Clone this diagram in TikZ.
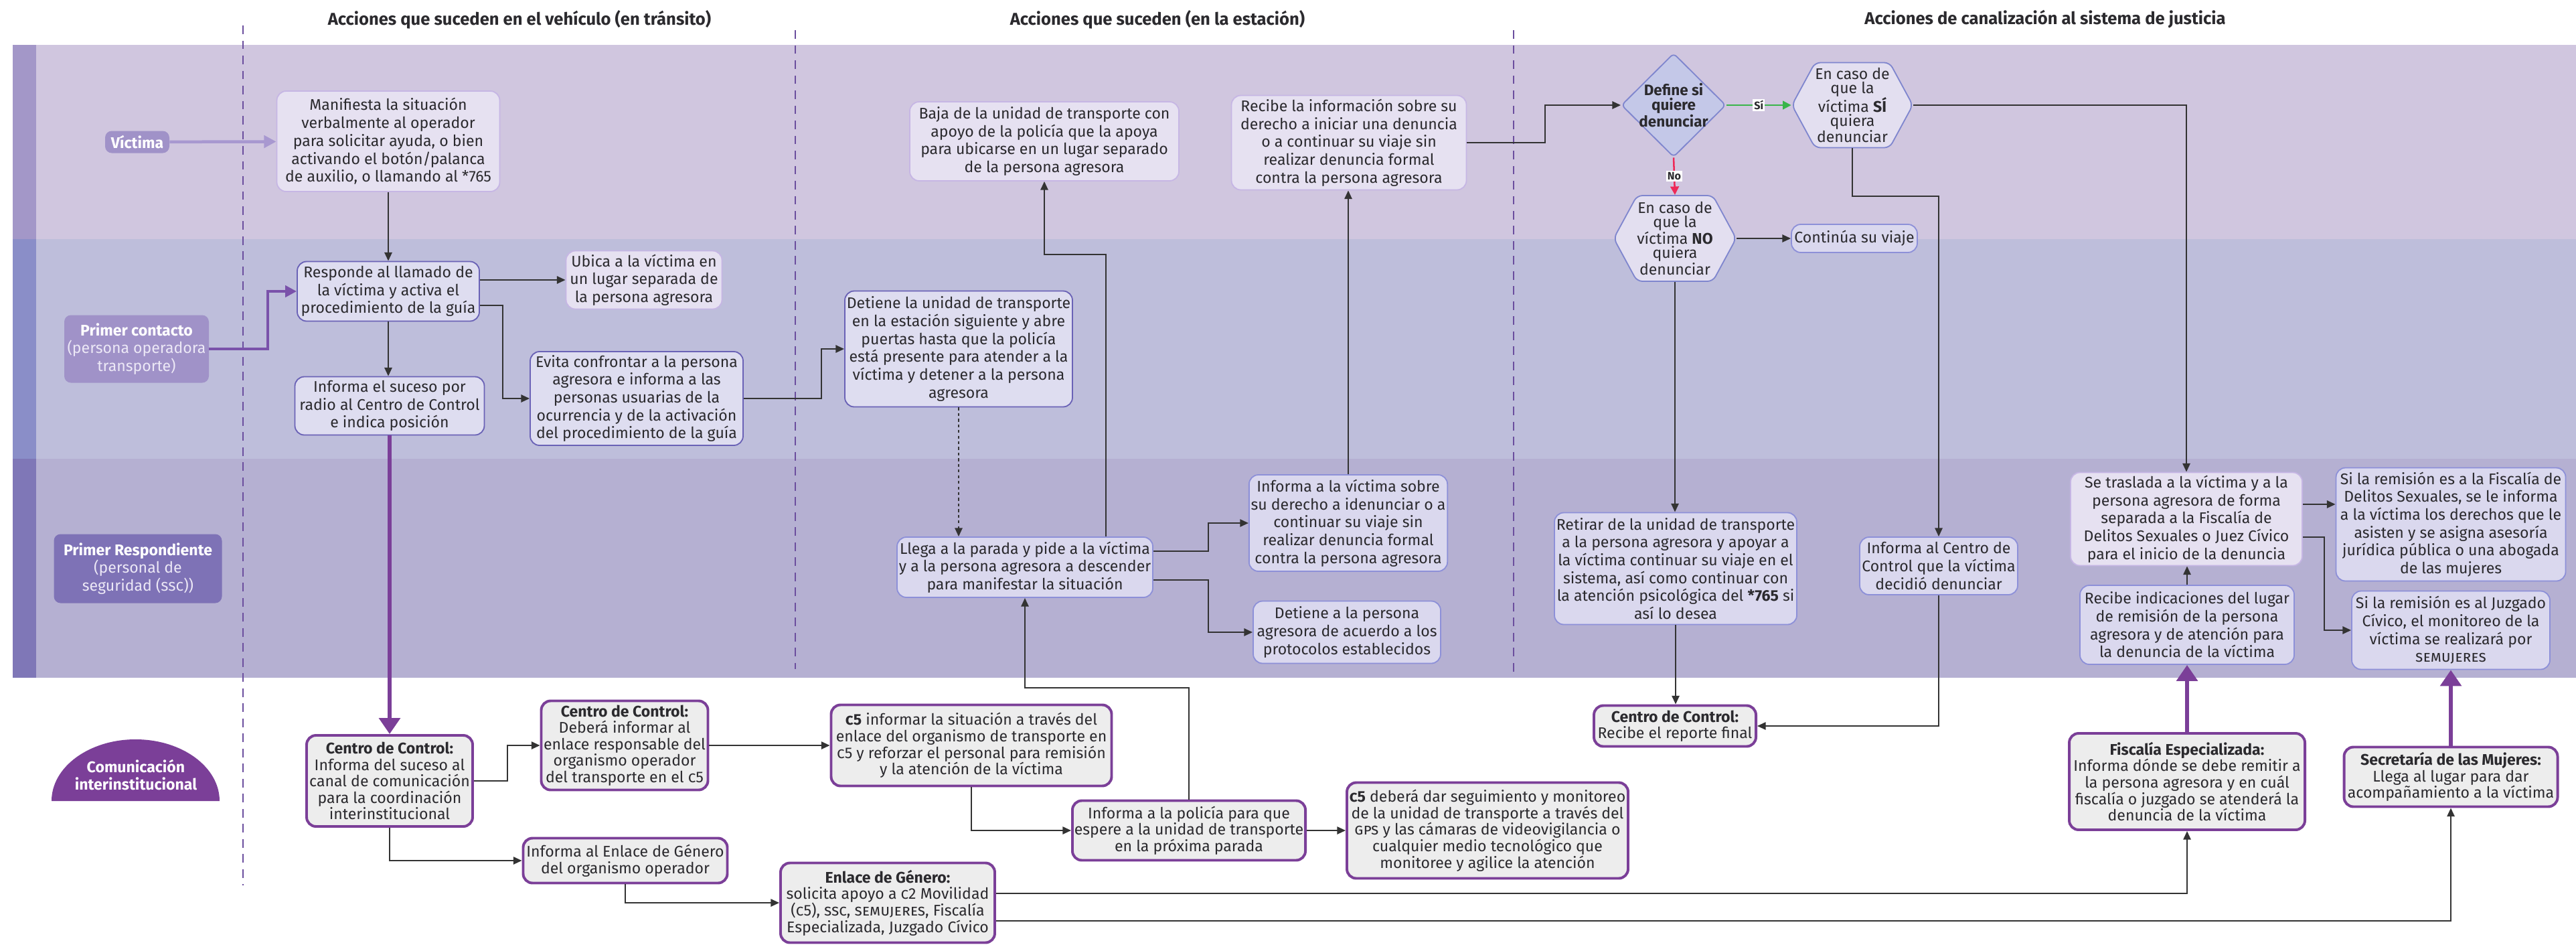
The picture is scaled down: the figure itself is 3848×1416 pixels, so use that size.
\documentclass[tikz,border=0pt]{standalone}
\usepackage{fontspec}
\setmainfont{Fira Sans}
\usetikzlibrary{arrows.meta,shapes.geometric,shapes.symbols}

\definecolor{txt}{HTML}{2B2A2E}
\definecolor{laneA}{HTML}{D0C6DF}
\definecolor{laneB}{HTML}{BEBEDB}
\definecolor{laneC}{HTML}{B5B0D2}
\definecolor{stripA}{HTML}{A397C8}
\definecolor{stripB}{HTML}{8A8EC8}
\definecolor{stripC}{HTML}{7F77B7}
\definecolor{fillA}{HTML}{E6E1F1}
\definecolor{fillB}{HTML}{DEDDF0}
\definecolor{fillC}{HTML}{DAD8EE}
\definecolor{fillD}{HTML}{EDEDED}
\definecolor{edgeA}{HTML}{C6B6E4}
\definecolor{edgeB}{HTML}{6A62B6}
\definecolor{edgeC}{HTML}{8D90D8}
\definecolor{purp}{HTML}{7B3F98}
\definecolor{tagA}{HTML}{A092C8}
\definecolor{tagC}{HTML}{7E72B6}
\definecolor{tagtxt}{HTML}{ECE8F6}
\definecolor{lin}{HTML}{333333}
\definecolor{colline}{HTML}{6B4E9E}
\definecolor{vline}{HTML}{A898D0}
\definecolor{pline}{HTML}{7A52AA}
\definecolor{decfill}{HTML}{C4C8E8}
\definecolor{decedge}{HTML}{7F86CE}
\definecolor{hexfill}{HTML}{E3DFF0}
\definecolor{sigreen}{HTML}{39B54A}
\definecolor{nored}{HTML}{EE2A58}

\newcommand\boxfont{\fontsize{16.4}{19}\selectfont}
\newcommand\cifont{\fontsize{16.4}{17.5}\selectfont}

\tikzset{
  sz/.style 2 args={minimum width=#1*0.025cm,minimum height=#2*0.025cm},
  box/.style={rectangle,rounded corners=0.35cm,align=center,text=txt,font=\boxfont,line width=1.3pt,inner sep=2pt},
  boxa/.style={box,fill=fillA,draw=edgeA},
  boxb/.style={box,fill=fillB,draw=edgeB},
  boxc/.style={box,fill=fillC,draw=edgeC},
  boxd/.style={box,fill=fillD,draw=purp,line width=2.8pt,font=\cifont},
  tag/.style={rectangle,rounded corners=0.25cm,align=center,text=white,font=\boxfont,inner sep=2pt},
  head/.style={font=\fontsize{18.2}{21}\selectfont\bfseries,text=txt},
  decis/.style={diamond,rounded corners=0.15cm,fill=decfill,draw=decedge,line width=1.3pt,align=center,text=txt,font=\fontsize{16}{15.6}\selectfont\bfseries,inner sep=-3pt},
  hexa/.style={signal,signal to=east and west,signal pointer angle=123,rounded corners=0.2cm,fill=hexfill,draw=decedge,line width=1.3pt,align=center,text=txt,font=\fontsize{16.4}{15}\selectfont,inner sep=0pt},
  yn/.style={fill=white,text=txt,font=\fontsize{11.5}{12}\selectfont\bfseries,inner sep=1.5pt},
  arr/.style={draw=lin,line width=1.4pt,-{Triangle[length=9pt,width=8pt]}},
  siarr/.style={draw=sigreen,line width=1.8pt,-{Triangle[length=9pt,width=9pt]}},
  noarr/.style={draw=nored,line width=1.8pt,-{Triangle[length=9pt,width=9pt]}},
  carr/.style={draw=purp,line width=4.3pt,-{Triangle[length=17pt,width=22pt]}},
  varr/.style={draw=vline,line width=3.2pt,-{Triangle[length=13pt,width=13pt]}},
  parr/.style={draw=pline,line width=3pt,-{Triangle[length=12pt,width=12pt]}},
  col/.style={draw=colline,line width=1.4pt,dash pattern=on 9pt off 7pt}
}

\begin{document}
\begin{tikzpicture}[x=0.025cm,y=-0.025cm]
\useasboundingbox (0,0) rectangle (3848,1416);
\fill[white] (0,0) rectangle (3848,1416);

% lanes
\foreach \ya/\yb/\c in {67/357/A,357/685/B,685/1012/C}{
  \fill[lane\c] (19,\ya) rectangle (3848,\yb);
  \fill[strip\c] (19,\ya) rectangle (54,\yb);
}
\draw[col] (363,38)--(363,1322);
\draw[col] (1188,45)--(1188,999);
\draw[col] (2261,45)--(2261,1012);

% headers
\node[head] (h1) at (776,29) {Acciones que suceden en el vehículo (en tránsito)};
\node[head] (h2) at (1729,29) {Acciones que suceden (en la estación)};
\node[head] (h3) at (3055,29) {Acciones de canalización al sistema de justicia};

% lane labels
\node[tag,fill=tagA,sz={96}{33}] (victima) at (205,212) {\textbf{Víctima}};
\node[tag,fill=tagA,sz={216}{101}] (pcont) at (204,521) {\textbf{Primer contacto}\\{\color{tagtxt}(persona operadora}\\{\color{tagtxt}transporte)}};
\node[tag,fill=tagC,sz={251}{103}] (presp) at (206,849) {\textbf{Primer Respondiente}\\{\color{tagtxt}(personal de}\\{\color{tagtxt}seguridad (\textsc{ssc}))}};
\fill[purp] (77,1196) arc[start angle=180,end angle=360,x radius=125.5,y radius=92]--cycle;
\node[font=\boxfont\bfseries,text=white,align=center] (comunic) at (203,1157) {Comunicación\\interinstitucional};

% lane 1
\node[boxa,sz={333}{150}] (manif) at (580,211) {Manifiesta la situación\\verbalmente al operador\\para solicitar ayuda, o bien\\activando el botón/palanca\\de auxilio, o llamando al *765};
\node[boxa,sz={402}{118}] (baja) at (1560,211) {Baja de la unidad de transporte con\\apoyo de la policía que la apoya\\para ubicarse en un lugar  separado\\de la persona agresora};
\node[boxa,sz={351}{141}] (recibe) at (2015,213) {Recibe la información sobre su\\derecho a iniciar una denuncia\\o a continuar su viaje sin\\realizar denuncia formal\\contra la persona agresora};
\node[decis,sz={156}{155}] (define) at (2500,157) {Define si\\quiere\\denunciar};
\node[hexa,sz={179}{127}] (si) at (2767,157) {En caso de\\que la\\víctima \textbf{SÍ}\\quiera\\denunciar};
\node[hexa,sz={178}{128}] (no) at (2502,356) {En caso de\\que la\\víctima \textbf{NO}\\quiera\\denunciar};
\node[boxc,sz={188}{42}] (continua) at (2770,356) {Continúa su viaje};

% lane 2
\node[boxb,sz={272}{89}] (responde) at (580,435) {Responde al llamado de\\la víctima y activa el\\procedimiento de la guía};
\node[boxa,sz={233}{87}] (ubica) at (962,418) {Ubica a la víctima en\\un lugar separada de\\la persona agresora};
\node[boxb,sz={318}{140}] (evita) at (951,595) {Evita confrontar a la persona\\agresora  e informa a las\\personas usuarias de la\\ocurrencia y de la activación\\del procedimiento de la guía};
\node[boxb,sz={283}{87}] (radio) at (582,606) {Informa el suceso por\\radio al Centro de Control\\e indica posición};
\node[boxb,sz={340}{173}] (detiene) at (1432,521) {Detiene la unidad de transporte\\en la estación siguiente y abre\\puertas hasta que la policía\\está presente para atender a la\\víctima y detener a la persona\\agresora};

% lane 3
\node[boxc,sz={380}{90}] (llega) at (1531,847) {Llega a la parada y pide a la víctima\\y a la persona agresora a descender\\para manifestar la situación};
\node[boxc,sz={294}{144}] (infvic) at (2014,781) {Informa a la víctima sobre\\su derecho a idenunciar o a\\continuar su viaje sin\\realizar denuncia formal\\contra la persona agresora};
\node[boxc,sz={280}{93}] (detagr) at (2012,944) {Detiene a la persona\\agresora de acuerdo a los\\protocolos establecidos};
\node[boxc,sz={361}{167}] (retirar) at (2503,849) {Retirar de la unidad de transporte\\a la persona agresora y apoyar a\\la víctima continuar su viaje en el\\sistema, así como continuar con\\la atención psicológica del \textbf{*765} si\\así lo desea};
\node[boxc,sz={236}{86}] (infcc) at (2896,845) {Informa al Centro de\\Control que la víctima\\decidió denunciar};
\node[boxa,sz={346}{139}] (traslada) at (3266,775) {Se traslada a la víctima y a la\\persona agresora de forma\\separada a la Fiscalía de\\Delitos Sexuales o Juez Cívico\\para el inicio de la denuncia};
\node[boxc,sz={320}{118}] (recind) at (3267,933) {Recibe indicaciones del lugar\\de remisión de la persona\\agresora y de atención para\\la denuncia de la víctima};
\node[boxc,sz={343}{169}] (sifisc) at (3661,783) {Si la remisión es a la Fiscalía de\\Delitos Sexuales, se le informa\\a la víctima los derechos que le\\asisten y se asigna asesoría\\jurídica pública o una abogada\\de las mujeres};
\node[boxc,sz={296}{117}] (sijuz) at (3661,941) {Si la remisión es al Juzgado\\Cívico, el monitoreo de la\\víctima se realizará por\\\textsc{semujeres}};

% comunicacion interinstitucional
\node[boxd,sz={248}{136}] (cc1) at (582,1166) {\textbf{Centro de Control:}\\Informa del suceso al\\canal de comunicación\\para la coordinación\\interinstitucional};
\node[boxd,sz={249}{133}] (cc2) at (933,1113) {\textbf{Centro de Control:}\\Deberá informar al\\enlace responsable del\\organismo operador\\del transporte en el \textsc{c5}};
\node[boxd,sz={305}{67}] (infenl) at (934,1285) {Informa al Enlace de Género\\del organismo operador};
\node[boxd,sz={419}{121}] (c5inf) at (1451,1113) {\textbf{\textsc{c5}} informar la situación a través del\\enlace del organismo de transporte en\\\textsc{c5} y reforzar el personal para remisión\\y la atención de la víctima};
\node[boxd,sz={341}{89}] (infpol) at (1776,1240) {Informa a la policía para que\\espere a la unidad de transporte\\en la próxima parada};
\node[boxd,sz={420}{143}] (c5seg) at (2222,1240) {\textbf{\textsc{c5}} deberá dar seguimiento y monitoreo\\de la unidad de transporte a través del\\\textsc{gps} y las cámaras de videovigilancia o\\cualquier medio tecnológico que\\monitoree y agilice la atención};
\node[boxd,sz={320}{119}] (enlace) at (1326,1348) {\textbf{Enlace de Género:}\\solicita apoyo a \textsc{c2} Movilidad\\(\textsc{c5}), \textsc{ssc}, \textsc{semujeres},  Fiscalía\\Especializada, Juzgado Cívico};
\node[boxd,sz={242}{61}] (ccfin) at (2502,1084) {\textbf{Centro de Control:}\\Recibe el reporte final};
\node[boxd,sz={352}{144}] (fiscal) at (3267,1167) {\textbf{Fiscalía Especializada:}\\Informa dónde se debe remitir a\\la persona agresora  y en cuál\\fiscalía o juzgado se atenderá la\\denuncia de la víctima};
\node[boxd,sz={319}{89}] (semuj) at (3661,1160) {\textbf{Secretaría de las Mujeres:}\\Llega al lugar para dar\\acompañamiento a la víctima};

% connectors
\draw[varr] (victima)--(manif);
\draw[parr] (pcont.east)--++(88,0)|-(responde.west);
\draw[arr] (manif.south)--(manif.south|-responde.north);
\draw[arr] (responde.east|-ubica.west)--(ubica.west);
\draw[arr] ([yshift=-0.525cm]responde.east)--++(34,0)|-(evita.west);
\draw[arr] (responde.south)--(responde.south|-radio.north);
\draw[carr] (radio.south)--(radio.south|-cc1.north);
\draw[arr] (evita.east)--++(116,0)|-(detiene.west);
\draw[arr,dashed] (detiene.south)--(detiene.south|-llega.north);
\draw[arr] ([xshift=3.03cm]llega.north)--++(0,-421)-|(baja.south);
\draw[arr] (infvic.north)--(infvic.north|-recibe.south);
\draw[arr] ([yshift=0.6cm]llega.east)--++(82,0)|-(infvic.west);
\draw[arr] ([yshift=-0.475cm]llega.east)--++(82,0)|-(detagr.west);
\draw[arr] (recibe.east)--++(117,0)|-(define.west);
\draw[siarr] (define.east)--node[yn]{Sí}(si.west);
\draw[noarr] (define.south)--node[yn]{No}(no.north);
\draw[arr] (no.east)--(continua.west);
\draw[arr] (si.east)-|(traslada.north);
\draw[arr] (si.south)--++(0,72)-|(infcc.north);
\draw[arr] (no.south)--(no.south|-retirar.north);
\draw[arr] (retirar.south)--(retirar.south|-ccfin.north);
\draw[arr] (infcc.south)|-(ccfin.east);
\draw[arr] ([yshift=0.55cm]traslada.east) coordinate (t1)--(t1-|sifisc.west);
\draw[arr] ([yshift=-0.675cm]traslada.east)--++(32,0)|-(sijuz.west);
\draw[arr] (recind.north)--(recind.north|-traslada.south);
\draw[carr] (fiscal.north)--(fiscal.north|-recind.south);
\draw[carr] (semuj.north)--(semuj.north|-sijuz.south);
\draw[arr] (cc1.east)--++(50,0)|-(cc2.west);
\draw[arr] (cc1.south)|-(infenl.west);
\draw[arr] (cc2.east)--(cc2.east-|c5inf.west);
\draw[arr] (infenl.south)|-(enlace.west);
\draw[arr] (c5inf.south)|-(infpol.west);
\draw[arr] (infpol.north)--++(0,-167)-|(llega.south);
\draw[arr] (infpol.east)--(infpol.east-|c5seg.west);
\draw[arr] ([yshift=0.35cm]enlace.east)-|(fiscal.south);
\draw[arr] ([yshift=-0.675cm]enlace.east)-|(semuj.south);
\end{tikzpicture}
\end{document}
